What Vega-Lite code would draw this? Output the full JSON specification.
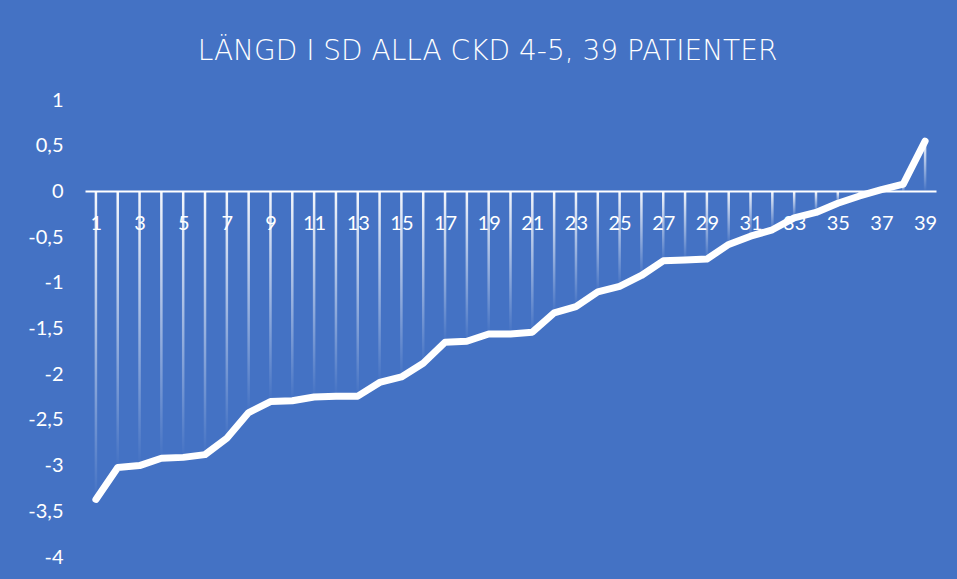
{
  "$schema": "https://vega.github.io/schema/vega-lite/v6.json",
  "autosize": {"type": "none"},
  "width": 851,
  "height": 457,
  "padding": {"left": 85, "top": 100, "right": 21, "bottom": 22},
  "background": "#4472C4",
  "config": {"view": {"stroke": null}},
  "title": {
    "text": "LÄNGD I SD ALLA CKD 4-5, 39 PATIENTER",
    "font": "DejaVu Sans",
    "fontWeight": 200,
    "fontSize": 28,
    "color": "white",
    "anchor": "middle",
    "dx": -23,
    "offset": 24
  },
  "data": {
    "values": [
      {"patient": 1, "sd": -3.37}, {"patient": 2, "sd": -3.02}, {"patient": 3, "sd": -3.0},
      {"patient": 4, "sd": -2.92}, {"patient": 5, "sd": -2.91}, {"patient": 6, "sd": -2.88},
      {"patient": 7, "sd": -2.7}, {"patient": 8, "sd": -2.42}, {"patient": 9, "sd": -2.3},
      {"patient": 10, "sd": -2.29}, {"patient": 11, "sd": -2.25}, {"patient": 12, "sd": -2.24},
      {"patient": 13, "sd": -2.24}, {"patient": 14, "sd": -2.09}, {"patient": 15, "sd": -2.03},
      {"patient": 16, "sd": -1.88}, {"patient": 17, "sd": -1.65}, {"patient": 18, "sd": -1.64},
      {"patient": 19, "sd": -1.56}, {"patient": 20, "sd": -1.56}, {"patient": 21, "sd": -1.54},
      {"patient": 22, "sd": -1.33}, {"patient": 23, "sd": -1.26}, {"patient": 24, "sd": -1.1},
      {"patient": 25, "sd": -1.04}, {"patient": 26, "sd": -0.92}, {"patient": 27, "sd": -0.76},
      {"patient": 28, "sd": -0.75}, {"patient": 29, "sd": -0.74}, {"patient": 30, "sd": -0.58},
      {"patient": 31, "sd": -0.49}, {"patient": 32, "sd": -0.42}, {"patient": 33, "sd": -0.29},
      {"patient": 34, "sd": -0.23}, {"patient": 35, "sd": -0.13}, {"patient": 36, "sd": -0.05},
      {"patient": 37, "sd": 0.02}, {"patient": 38, "sd": 0.08}, {"patient": 39, "sd": 0.55}
    ]
  },
  "encoding": {
    "x": {
      "field": "patient",
      "type": "quantitative",
      "scale": {"domain": [0.5, 39.5], "nice": false, "zero": false, "padding": 0},
      "axis": {
        "title": null,
        "orient": "bottom",
        "offset": -366,
        "values": [1,3,5,7,9,11,13,15,17,19,21,23,25,27,29,31,33,35,37,39],
        "grid": false,
        "ticks": false,
        "domain": true,
        "domainColor": "white",
        "domainWidth": 2,
        "labelColor": "white",
        "labelFont": "Lato",
        "labelFontSize": 20,
        "labelPadding": 22,
        "labelFlush": false,
        "labelOverlap": false
      }
    },
    "y": {
      "field": "sd",
      "type": "quantitative",
      "scale": {"domain": [-4, 1], "nice": false},
      "axis": {
        "title": null,
        "values": [-4, -3.5, -3, -2.5, -2, -1.5, -1, -0.5, 0, 0.5, 1],
        "labelExpr": "replace(replace(format(datum.value, ''), '.', ','), '\u2212', '-')",
        "grid": false,
        "ticks": false,
        "domain": false,
        "labelColor": "white",
        "labelFont": "Lato",
        "labelFontSize": 20,
        "labelPadding": 22,
        "labelFlush": false,
        "labelOverlap": false
      }
    }
  },
  "layer": [
    {
      "mark": {
        "type": "bar",
        "width": 2.5,
        "fill": {
          "gradient": "linear",
          "x1": 0, "y1": 0, "x2": 0, "y2": 1,
          "stops": [
            {"offset": 0, "color": "rgba(255,255,255,0.95)"},
            {"offset": 1, "color": "rgba(255,255,255,0)"}
          ]
        }
      },
      "encoding": {"y2": {"datum": 0}}
    },
    {
      "mark": {
        "type": "line",
        "color": "white",
        "strokeWidth": 7,
        "strokeCap": "round",
        "strokeJoin": "round"
      }
    }
  ]
}
